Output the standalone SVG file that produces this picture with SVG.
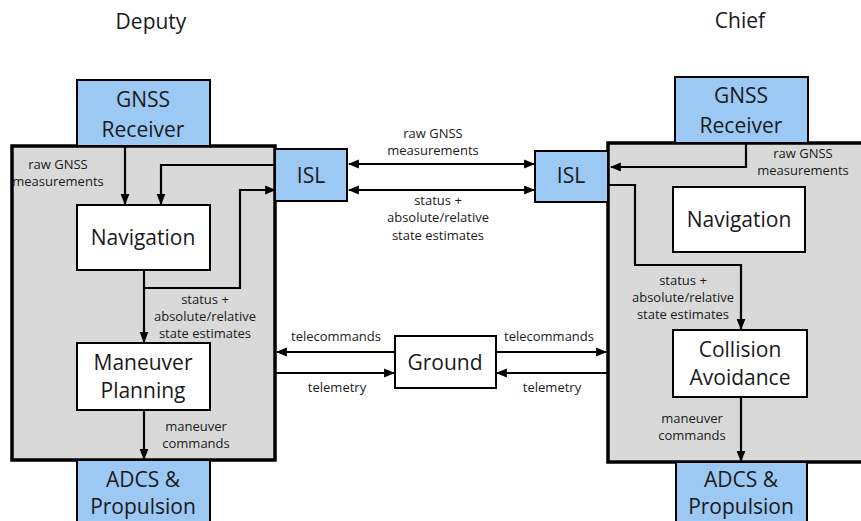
<svg xmlns="http://www.w3.org/2000/svg" width="861" height="521" viewBox="0 0 861 521">
<defs>
<marker id="ah" viewBox="0 0 10 10" refX="9" refY="5" markerWidth="5" markerHeight="5" orient="auto-start-reverse" markerUnits="strokeWidth">
<path d="M0,1 L10,5 L0,9 z" fill="#000"/>
</marker>
<style>
.t{font-family:"Open Sans","Noto Sans",sans-serif;fill:#1a1a1a;text-anchor:middle}
.big{font-size:21px}
.sm{font-size:13px}
.sys{fill:#d9d9d9;stroke:#000;stroke-width:3.5}
.blue{fill:#9cc8f4;stroke:#000;stroke-width:2}
.white{fill:#fff;stroke:#000;stroke-width:2}
.c{fill:none;stroke:#000;stroke-width:2.2;marker-end:url(#ah)}
.cb{fill:none;stroke:#000;stroke-width:2.2;marker-end:url(#ah);marker-start:url(#ah)}
.cn{fill:none;stroke:#000;stroke-width:2.2}
</style>
</defs>
<rect width="861" height="521" fill="#fff"/>
<text class="t big" x="151" y="29">Deputy</text>
<text class="t big" x="740" y="28">Chief</text>

<g id="deputy">
<rect class="sys" x="12" y="146" width="263" height="314"/>
</g>
<g id="chief">
<rect class="sys" x="608" y="143" width="270" height="319"/>
</g>

<g id="connectors">
<path class="c" d="M125,146 V204"/>
<path class="c" d="M275,165 H161 V204"/>
<path class="cn" d="M144,270 V288"/>
<path class="c" d="M144,288 H240 V190 H275"/>
<path class="c" d="M144,288 V342"/>
<path class="c" d="M144,410 V459"/>
<path class="cb" d="M349,164 H534"/>
<path class="cb" d="M349,190 H534"/>
<path class="c" d="M395,352 H277"/>
<path class="c" d="M275,373 H394"/>
<path class="c" d="M496,352 H606"/>
<path class="c" d="M608,373 H497"/>
<path class="c" d="M746,143 V167 H611"/>
<path class="c" d="M608,185 H635 V265 H741 V329"/>
<path class="c" d="M741,397 V461"/>
</g>

<g id="gnss-deputy">
<rect class="blue" x="77" y="80" width="133" height="66"/>
<text class="t big" x="143" y="107">GNSS</text>
<text class="t big" x="143" y="137">Receiver</text>
</g>
<g id="nav-deputy">
<rect class="white" x="77" y="205" width="133" height="65"/>
<text class="t big" x="143" y="245">Navigation</text>
</g>
<g id="maneuver-planning">
<rect class="white" x="77" y="343" width="133" height="67"/>
<text class="t big" x="143" y="370">Maneuver</text>
<text class="t big" x="143" y="398">Planning</text>
</g>
<g id="adcs-deputy">
<rect class="blue" x="77" y="460" width="133" height="70"/>
<text class="t big" x="143" y="487">ADCS &amp;</text>
<text class="t big" x="143" y="514">Propulsion</text>
</g>
<g id="isl-deputy">
<rect class="blue" x="275" y="149" width="72" height="52"/>
<text class="t big" x="311" y="183">ISL</text>
</g>
<g id="isl-chief">
<rect class="blue" x="535" y="151" width="73" height="51"/>
<text class="t big" x="571" y="183">ISL</text>
</g>
<g id="ground">
<rect class="white" x="395" y="336" width="101" height="52"/>
<text class="t big" x="445" y="370">Ground</text>
</g>
<g id="gnss-chief">
<rect class="blue" x="675" y="77" width="133" height="66"/>
<text class="t big" x="741" y="103">GNSS</text>
<text class="t big" x="741" y="133">Receiver</text>
</g>
<g id="nav-chief">
<rect class="white" x="673" y="187" width="132" height="65"/>
<text class="t big" x="739" y="227">Navigation</text>
</g>
<g id="collision-avoidance">
<rect class="white" x="673" y="330" width="134" height="67"/>
<text class="t big" x="740" y="357">Collision</text>
<text class="t big" x="740" y="385">Avoidance</text>
</g>
<g id="adcs-chief">
<rect class="blue" x="676" y="462" width="131" height="70"/>
<text class="t big" x="741" y="487">ADCS &amp;</text>
<text class="t big" x="741" y="514">Propulsion</text>
</g>

<g id="labels">
<text class="t sm" x="58" y="169">raw GNSS</text>
<text class="t sm" x="58" y="186">measurements</text>
<text class="t sm" x="205" y="304">status +</text>
<text class="t sm" x="205" y="321">absolute/relative</text>
<text class="t sm" x="205" y="338">state estimates</text>
<text class="t sm" x="196" y="431">maneuver</text>
<text class="t sm" x="196" y="448">commands</text>
<text class="t sm" x="433" y="138">raw GNSS</text>
<text class="t sm" x="433" y="155">measurements</text>
<text class="t sm" x="438" y="205">status +</text>
<text class="t sm" x="438" y="222">absolute/relative</text>
<text class="t sm" x="438" y="240">state estimates</text>
<text class="t sm" x="336" y="341">telecommands</text>
<text class="t sm" x="337" y="392">telemetry</text>
<text class="t sm" x="549" y="341">telecommands</text>
<text class="t sm" x="552" y="392">telemetry</text>
<text class="t sm" x="803" y="158">raw GNSS</text>
<text class="t sm" x="803" y="175">measurements</text>
<text class="t sm" x="683" y="285">status +</text>
<text class="t sm" x="683" y="302">absolute/relative</text>
<text class="t sm" x="683" y="319">state estimates</text>
<text class="t sm" x="692" y="423">maneuver</text>
<text class="t sm" x="692" y="440">commands</text>
</g>
</svg>
